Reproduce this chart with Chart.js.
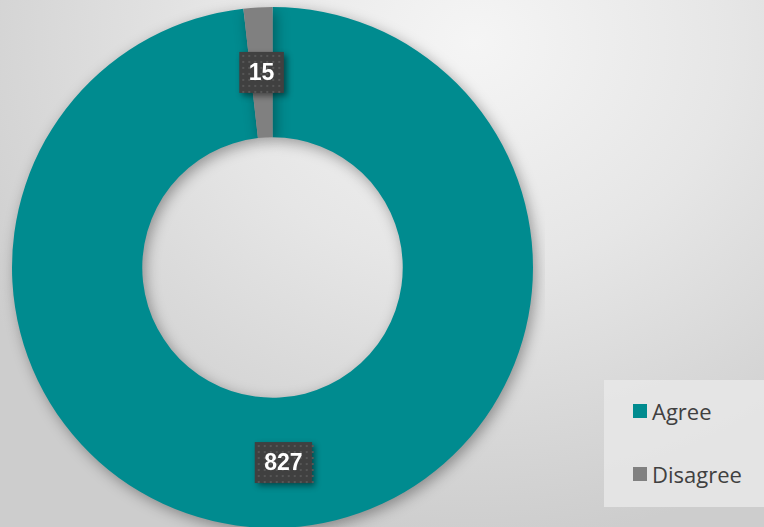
<!DOCTYPE html>
<html>
<head>
<meta charset="utf-8">
<script src="https://cdn.jsdelivr.net/npm/chart.js@4"></script>
<style>
  html, body { margin: 0; padding: 0; }
  body {
    width: 764px; height: 527px; overflow: hidden; position: relative;
    background: radial-gradient(ellipse 75% 95% at 62% 8%, #f5f5f5 0%, #e6e6e6 45%, #cdcdcd 100%);
    font-family: "Open Sans", Roboto, sans-serif;
  }
  #wrap { position: absolute; left: 0; top: 0; width: 545px; height: 535px; }
  #legend {
    position: absolute; left: 604px; top: 380px; width: 160px; height: 127px;
    background: rgba(232,232,232,0.85);
  }
  .item { position: absolute; left: 29px; display: flex; align-items: center; color: #404040; font-size: 22px; line-height: 24px; }
  .item span.sw { width: 14px; height: 14px; margin-right: 5px; display: inline-block; }
</style>
</head>
<body>
<div id="wrap"><canvas id="chart"></canvas></div>
<div id="legend"></div>
<script>
// dados
const categorias = ['Agree', 'Disagree'];
const valores = [827, 15];
const cores = ['#008B8F', '#808080'];

// sombra do anel
const sombraPlugin = {
  id: 'sombra',
  beforeDatasetsDraw(chart) {
    const ctx = chart.ctx;
    ctx.save();
    ctx.shadowColor = 'rgba(0,0,0,0.35)';
    ctx.shadowBlur = 14;
    ctx.shadowOffsetX = 3;
    ctx.shadowOffsetY = 4;
  },
  afterDatasetsDraw(chart) {
    chart.ctx.restore();
  }
};

// rótulos com caixa escura
const rotulosPlugin = {
  id: 'rotulos',
  afterDraw(chart) {
    const ctx = chart.ctx;
    const meta = chart.getDatasetMeta(0);
    ctx.save();
    ctx.font = 'bold 23px "Liberation Sans", Arial, sans-serif';
    meta.data.forEach((arc, i) => {
      const p = arc.getCenterPoint();
      const txt = String(chart.data.datasets[0].data[i]);
      const w = ctx.measureText(txt).width + 19;
      const h = 41;
      const x = p.x - w / 2, y = p.y - h / 2;
      ctx.save();
      ctx.shadowColor = 'rgba(0,0,0,0.45)';
      ctx.shadowBlur = 6;
      ctx.shadowOffsetX = 3;
      ctx.shadowOffsetY = 3;
      ctx.fillStyle = '#404040';
      ctx.fillRect(x, y, w, h);
      ctx.restore();
      // pontinhos
      ctx.fillStyle = '#575757';
      for (let yy = y + 3; yy < y + h; yy += 6) {
        for (let xx = x + 3; xx < x + w; xx += 6) ctx.fillRect(xx, yy, 2, 2);
      }
      ctx.fillStyle = '#ffffff';
      ctx.textAlign = 'center';
      ctx.textBaseline = 'middle';
      ctx.fillText(txt, p.x, p.y + 1);
    });
    ctx.restore();
  }
};

new Chart(document.getElementById('chart'), {
  type: 'doughnut',
  data: {
    labels: categorias,
    datasets: [{
      data: valores,
      backgroundColor: cores,
      borderWidth: 0
    }]
  },
  options: {
    responsive: true,
    maintainAspectRatio: false,
    animation: false,
    cutout: '50%',
    layout: { padding: { left: 12, right: 12, top: 7, bottom: 7 } },
    plugins: {
      legend: { display: false },
      tooltip: { enabled: false }
    }
  },
  plugins: [sombraPlugin, rotulosPlugin]
});

// legenda
const legend = document.getElementById('legend');
categorias.forEach((c, i) => {
  const el = document.createElement('div');
  el.className = 'item';
  el.style.top = (i === 0 ? 19 : 82) + 'px';
  el.innerHTML = `<span class="sw" style="background:${cores[i]}"></span>${c}`;
  legend.appendChild(el);
});
</script>
</body>
</html>
